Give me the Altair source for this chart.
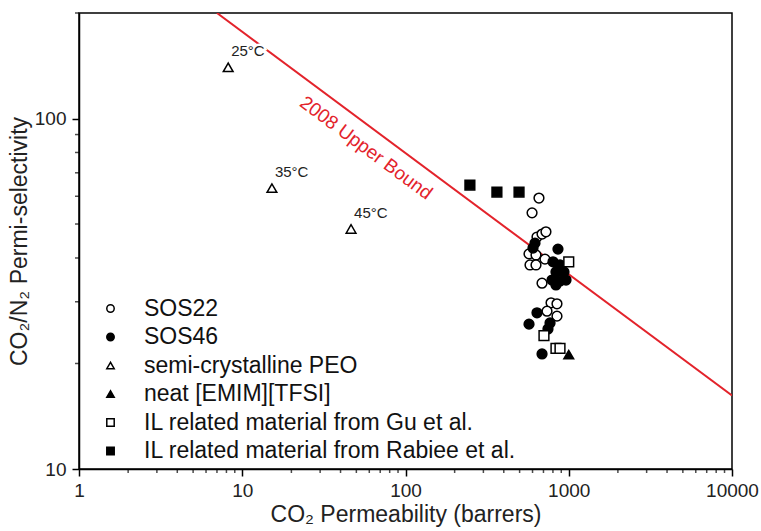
import altair as alt
import pandas as pd

# CO2 permeability (barrers) and CO2/N2 selectivity for each material
sos22_perm = [657, 596, 639, 686, 725, 571, 630, 579, 630, 715, 686, 779, 847, 736, 847]
sos22_sel = [59.3, 53.8, 45.9, 46.8, 47.5, 41.1, 40.8, 38.2, 38.2, 39.7, 33.9, 29.8, 29.6, 28.2, 27.3]

sos46_perm = [621, 604, 859, 801, 884, 835, 935, 790, 884, 962, 835, 639, 571, 768, 746, 686]
sos46_sel = [44.1, 42.7, 42.4, 39.0, 38.2, 36.5, 36.5, 34.6, 34.4, 34.6, 33.5, 27.9, 25.9, 26.1, 25.1, 21.3]

peo_perm = [8.2, 15.2, 46.4]
peo_sel = [140, 63.3, 48.4]
peo_temp = ["25°C", "35°C", "45°C"]

emim_perm = [1000]
emim_sel = [21.2]

gu_perm = [1000, 705, 835, 884]
gu_sel = [39.0, 24.0, 22.1, 22.1]

rabiee_perm = [248, 363, 496]
rabiee_sel = [64.6, 61.7, 61.7]

# Robeson 2008 upper bound end points
bound_perm = [7.0, 10000]
bound_sel = [200, 16.2]
bound_label = "2008 Upper Bound"
bound_label_perm = [57.3]
bound_label_sel = [82.4]

# axis ticks
x_major = [1, 10, 100, 1000, 10000]
x_minor = [m * 10 ** e for e in range(4) for m in range(2, 10)]
y_major = [10, 100]
y_minor = [20, 30, 40, 50, 60, 70, 80, 90, 200]

names = [
    "SOS22",
    "SOS46",
    "semi-crystalline PEO",
    "neat [EMIM][TFSI]",
    "IL related material from Gu et al.",
    "IL related material from Rabiee et al.",
]
series = [sos22_perm, sos46_perm, peo_perm, emim_perm, gu_perm, rabiee_perm]
sels = [sos22_sel, sos46_sel, peo_sel, emim_sel, gu_sel, rabiee_sel]

rows = []
for name, ps, ss in zip(names, series, sels):
    for p, s in zip(ps, ss):
        rows.append({"perm": p, "sel": s, "series": name})
pts = pd.DataFrame(rows)

peo_df = pd.DataFrame({"perm": peo_perm, "sel": peo_sel, "label": peo_temp})
bound_df = pd.DataFrame({"perm": bound_perm, "sel": bound_sel})
bound_lab_df = pd.DataFrame({"perm": bound_label_perm, "sel": bound_label_sel, "label": [bound_label]})
xminor_df = pd.DataFrame({"perm": x_minor})
yminor_df = pd.DataFrame({"sel": y_minor})

FONT = "Liberation Sans"
RED = "#e3232b"
W, H = 653, 456

x_scale = alt.Scale(type="log", domain=[1, 10000])
y_scale = alt.Scale(type="log", domain=[10, 200])

x_axis = alt.Axis(
    values=x_major,
    format="d",
    tickSize=7,
    labelOverlap=False,
    labelFlush=False,
    labelPadding=5,
    titlePadding=3,
)
y_axis = alt.Axis(
    values=y_major,
    format="d",
    tickSize=7,
    labelOverlap=False,
    labelFlush=False,
    labelPadding=6,
    titlePadding=3,
)

legend = alt.Legend(
    title=None,
    orient="bottom-left",
    offset=6,
    padding=0,
    symbolOffset=14,
    labelFontSize=23,
    labelFont=FONT,
    labelColor="#111",
    labelLimit=0,
    labelOffset=22,
    rowPadding=4.5,
    symbolSize=55,
)

points = alt.Chart(pts).mark_point(filled=True, stroke="black", strokeWidth=1.5, opacity=1, size=95).encode(
    x=alt.X("perm:Q", scale=x_scale, axis=x_axis, title="CO₂ Permeability (barrers)"),
    y=alt.Y("sel:Q", scale=y_scale, axis=y_axis, title="CO₂/N₂ Permi-selectivity"),
    shape=alt.Shape(
        "series:N",
        scale=alt.Scale(domain=names, range=["circle", "circle", "triangle-up", "triangle-up", "square", "square"]),
        legend=legend,
    ),
    fill=alt.Fill(
        "series:N",
        scale=alt.Scale(domain=names, range=["white", "black", "white", "black", "white", "black"]),
        legend=legend,
    ),
)

bound = alt.Chart(bound_df).mark_line(color=RED, strokeWidth=2, clip=True).encode(
    x=alt.X("perm:Q", scale=x_scale),
    y=alt.Y("sel:Q", scale=y_scale),
)

bound_text = alt.Chart(bound_lab_df).mark_text(
    angle=36.6, color=RED, fontSize=19, font=FONT, align="center", baseline="middle"
).encode(
    x=alt.X("perm:Q", scale=x_scale),
    y=alt.Y("sel:Q", scale=y_scale),
    text="label:N",
)

peo_halo = alt.Chart(peo_df).mark_text(
    align="left", baseline="middle", dx=3, dy=-16, fontSize=15, font=FONT,
    color="white", stroke="white", strokeWidth=5,
).encode(
    x=alt.X("perm:Q", scale=x_scale),
    y=alt.Y("sel:Q", scale=y_scale),
    text="label:N",
)

peo_text = alt.Chart(peo_df).mark_text(
    align="left", baseline="middle", dx=3, dy=-16, fontSize=15, font=FONT, color="#222",
).encode(
    x=alt.X("perm:Q", scale=x_scale),
    y=alt.Y("sel:Q", scale=y_scale),
    text="label:N",
)

# short minor ticks pointing outward from the bottom and left edges
x_minor_ticks = alt.Chart(xminor_df).mark_tick(color="black", thickness=1.5, size=4, orient="vertical").encode(
    x=alt.X("perm:Q", scale=x_scale),
    y=alt.value(H + 2),
)
y_minor_ticks = alt.Chart(yminor_df).mark_tick(color="black", thickness=1.5, size=4, orient="horizontal").encode(
    y=alt.Y("sel:Q", scale=y_scale),
    x=alt.value(-2),
)

chart = (
    alt.layer(bound, bound_text, peo_halo, peo_text, x_minor_ticks, y_minor_ticks, points)
    .properties(
        width=W,
        height=H,
        autosize=alt.AutoSizeParams(type="none"),
        padding={"left": 79, "top": 13, "right": 29, "bottom": 62},
        background="white",
    )
    .configure_axis(
        labelFont=FONT,
        titleFont=FONT,
        labelFontSize=19,
        titleFontSize=23,
        titleFontWeight="normal",
        labelColor="#222",
        titleColor="#222",
        domainColor="black",
        domainWidth=1.5,
        tickColor="black",
        tickWidth=1.5,
        grid=False,
    )
    .configure_view(stroke="black", strokeWidth=1.5)
)

chart.save("out.html", embed_options={"renderer": "svg", "actions": False})
